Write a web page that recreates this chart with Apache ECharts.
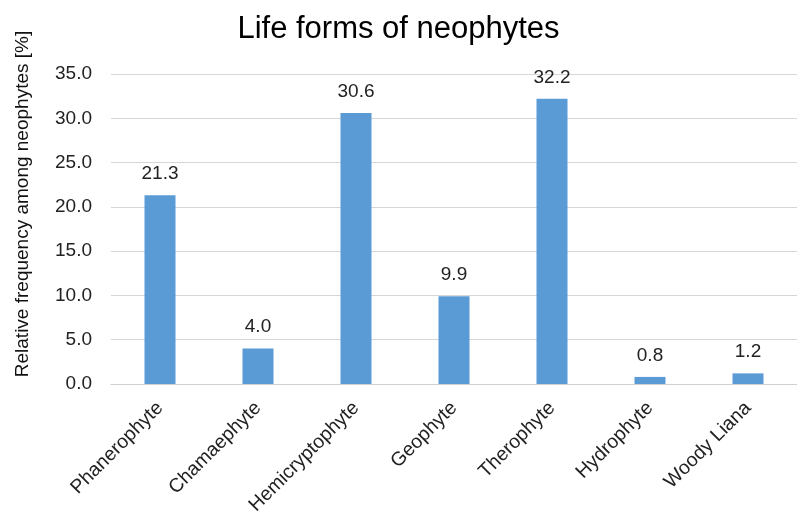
<!DOCTYPE html>
<html><head><meta charset="utf-8">
<script src="https://cdn.jsdelivr.net/npm/echarts@6/dist/echarts.min.js"></script>
<style>html,body{margin:0;padding:0;background:#fff}#c{width:797px;height:518px}</style>
</head><body><div id="c"></div>
<script>
const categories = ["Phanerophyte","Chamaephyte","Hemicryptophyte","Geophyte","Therophyte","Hydrophyte","Woody Liana"];
const values = [21.3, 4.0, 30.6, 9.9, 32.2, 0.8, 1.2];
const yAxisTitle = 'Relative frequency among neophytes [%]';
const chart = echarts.init(document.getElementById('c'), null, {renderer:'canvas'});
const F = '"Liberation Sans", Arial, sans-serif';
chart.setOption({
  animation:false,
  title:{text:'Life forms of neophytes', left:'center', top:9, textStyle:{fontFamily:F, fontSize:31, fontWeight:'normal', color:'#000'}},
  grid:{left:111, right:-5, top:74, bottom:134, containLabel:false},
  graphic:[{type:'text', rotation:Math.PI/2, x:13, y:204,
    style:{text:yAxisTitle, font:'19px ' + F, fill:'#111', textAlign:'center', textVerticalAlign:'top'}}],
  xAxis:{type:'category', data:categories,
    axisLine:{show:true, lineStyle:{color:'#d0d0d0'}}, axisTick:{show:false},
    axisLabel:{rotate:45, margin:21, fontFamily:F, fontSize:19.5, color:'#222', interval:0}},
  yAxis:{type:'value', min:0, max:35, interval:5,
    axisLabel:{formatter:v=>v.toFixed(1), fontFamily:F, fontSize:19, color:'#222', margin:19},
    splitLine:{lineStyle:{color:'#d6d6d6', width:1}}, axisLine:{show:false}, axisTick:{show:false}},
  series:[{type:'bar', data:values, barWidth:31, itemStyle:{color:'#5B9BD5'},
    label:{show:true, position:'top', distance:12, formatter:p=>p.value.toFixed(1), fontFamily:F, fontSize:19, color:'#222'}}]
});
</script></body></html>
